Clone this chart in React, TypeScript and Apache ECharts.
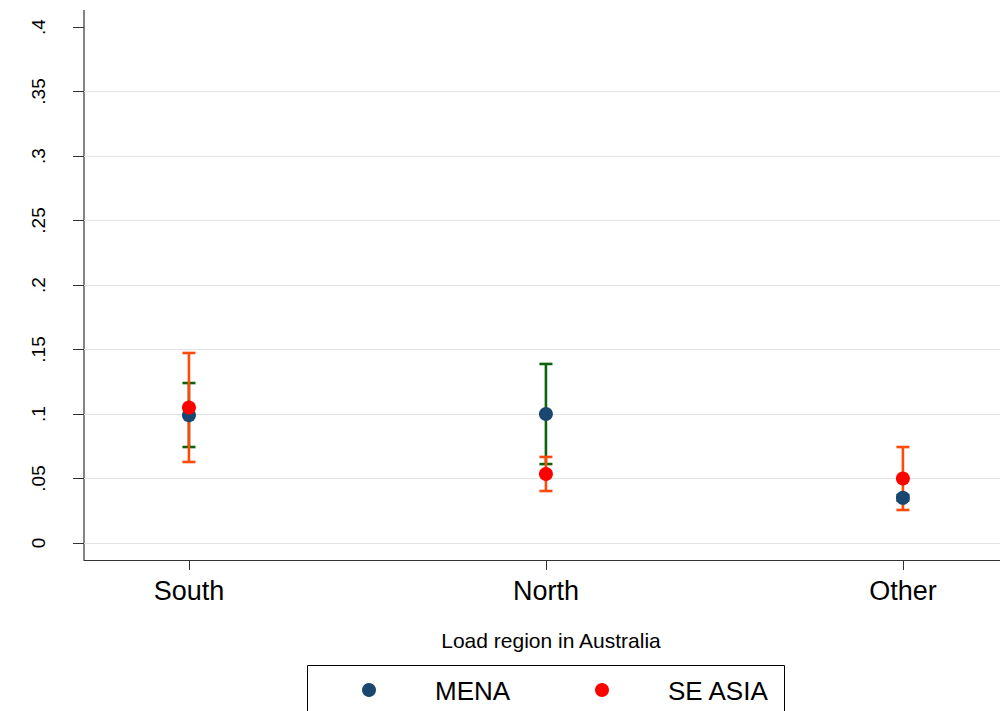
import React, { useEffect, useRef } from "react";
import * as echarts from "echarts";

// Load regions, placed at x = 1, 2, 3 on a numeric axis
const regions = ["South", "North", "Other"];
const regionX = [1, 2, 3];

// Point estimates
const menaValues = [0.099, 0.1, 0.035];
const seAsiaValues = [0.105, 0.0535, 0.05];

// 95% confidence intervals [low, high]
const menaCI = [
  [0.0744, 0.124],
  [0.0612, 0.1388],
  [0.0328, 0.0372],
];
const seAsiaCI = [
  [0.0628, 0.1473],
  [0.0403, 0.0667],
  [0.0256, 0.0744],
];

const yTicks = [0, 0.05, 0.1, 0.15, 0.2, 0.25, 0.3, 0.35, 0.4];

const seriesNames = ["MENA", "SE ASIA"];
const dotColors = ["#1a476f", "#ff0000"];
const ciColors = ["#0b640b", "#ff4a0a"];

const FONT = "Liberation Sans, Arial, Helvetica, sans-serif";

const capSeries = (name: string, ci: number[][], color: string) => ({
  name,
  type: "custom",
  data: ci.map((c, i) => [regionX[i], c[0], c[1]]),
  renderItem: (params: any, api: any) => {
    const x = api.value(0);
    const lo = api.coord([x, api.value(1)]);
    const hi = api.coord([x, api.value(2)]);
    const half = 6.5;
    const style = { stroke: color, lineWidth: 2.6 };
    return {
      type: "group",
      children: [
        { type: "line", shape: { x1: lo[0], y1: lo[1], x2: hi[0], y2: hi[1] }, style },
        { type: "line", shape: { x1: lo[0] - half, y1: lo[1], x2: lo[0] + half, y2: lo[1] }, style },
        { type: "line", shape: { x1: hi[0] - half, y1: hi[1], x2: hi[0] + half, y2: hi[1] }, style },
      ],
    };
  },
  z: 2,
});

// Boxed legend drawn as graphic elements
const legendGraphic = () => {
  const items: any[] = [
    {
      type: "rect",
      shape: { x: 307.5, y: 665.5, width: 477, height: 60 },
      style: { fill: "#fff", stroke: "#000", lineWidth: 1 },
      silent: true,
    },
  ];
  const dotX = [369, 602];
  const textX = [435, 668];
  seriesNames.forEach((name, i) => {
    items.push({
      type: "circle",
      shape: { cx: dotX[i], cy: 690, r: 7 },
      style: { fill: dotColors[i] },
      silent: true,
    });
    items.push({
      type: "text",
      x: textX[i],
      y: 691,
      style: {
        text: name,
        fill: "#000",
        fontSize: 26,
        fontFamily: FONT,
        textAlign: "left",
        textVerticalAlign: "middle",
      },
      silent: true,
    });
  });
  return items;
};

export default function App() {
  const ref = useRef<HTMLDivElement>(null);

  useEffect(() => {
    if (!ref.current) return;
    const chart = echarts.init(ref.current, undefined, { renderer: "svg" });
    const splitColors = yTicks.map((_, i) => (i === yTicks.length - 1 ? "rgba(0,0,0,0)" : "#e2e2e2"));

    chart.setOption({
      animation: false,
      backgroundColor: "#ffffff",
      textStyle: { fontFamily: FONT },
      grid: { left: 84, right: 0, top: 27, bottom: 168, containLabel: false },
      xAxis: {
        type: "value",
        min: 0.706,
        max: 3.272,
        offset: 17,
        axisLine: { show: true, onZero: false, lineStyle: { color: "#333", width: 1.2 } },
        axisTick: { show: true, length: 10, customValues: regionX, lineStyle: { color: "#333" } },
        axisLabel: {
          customValues: regionX,
          formatter: (v: number) => regions[Math.round(v) - 1] ?? "",
          fontSize: 27,
          color: "#000",
          margin: 17,
          fontFamily: FONT,
        },
        splitLine: { show: false },
        name: "Load region in Australia",
        nameLocation: "middle",
        nameGap: 70,
        nameTextStyle: { fontSize: 21, color: "#000", fontFamily: FONT, padding: [0, 0, 0, 18] },
      },
      yAxis: {
        type: "value",
        min: 0,
        max: 0.4,
        interval: 0.05,
        axisLine: { show: false },
        axisTick: { show: true, length: 11, lineStyle: { color: "#333" } },
        axisLabel: {
          rotate: 90,
          fontSize: 19,
          color: "#000",
          margin: 36,
          fontFamily: FONT,
          formatter: (v: number) => {
            const s = Number(v.toFixed(2)).toString();
            return s === "0" ? "0" : s.replace(/^0\./, ".");
          },
        },
        splitLine: { show: true, lineStyle: { color: splitColors, width: 1 } },
      },
      graphic: [
        {
          type: "line",
          shape: { x1: 84, y1: 10, x2: 84, y2: 560 },
          style: { stroke: "#333", lineWidth: 1.2 },
          silent: true,
        },
        ...legendGraphic(),
      ],
      series: [
        capSeries("MENA CI", menaCI, ciColors[0]),
        capSeries("SE ASIA CI", seAsiaCI, ciColors[1]),
        {
          name: seriesNames[0],
          type: "scatter",
          data: menaValues.map((v, i) => [regionX[i], v]),
          symbol: "circle",
          symbolSize: 14,
          itemStyle: { color: dotColors[0], opacity: 1 },
          z: 3,
        },
        {
          name: seriesNames[1],
          type: "scatter",
          data: seAsiaValues.map((v, i) => [regionX[i], v]),
          symbol: "circle",
          symbolSize: 14,
          itemStyle: { color: dotColors[1], opacity: 1 },
          z: 4,
        },
      ],
    });

    return () => chart.dispose();
  }, []);

  return (
    <div
      ref={ref}
      style={{ position: "fixed", left: 0, top: 0, width: 1000, height: 711, background: "#fff" }}
    />
  );
}
